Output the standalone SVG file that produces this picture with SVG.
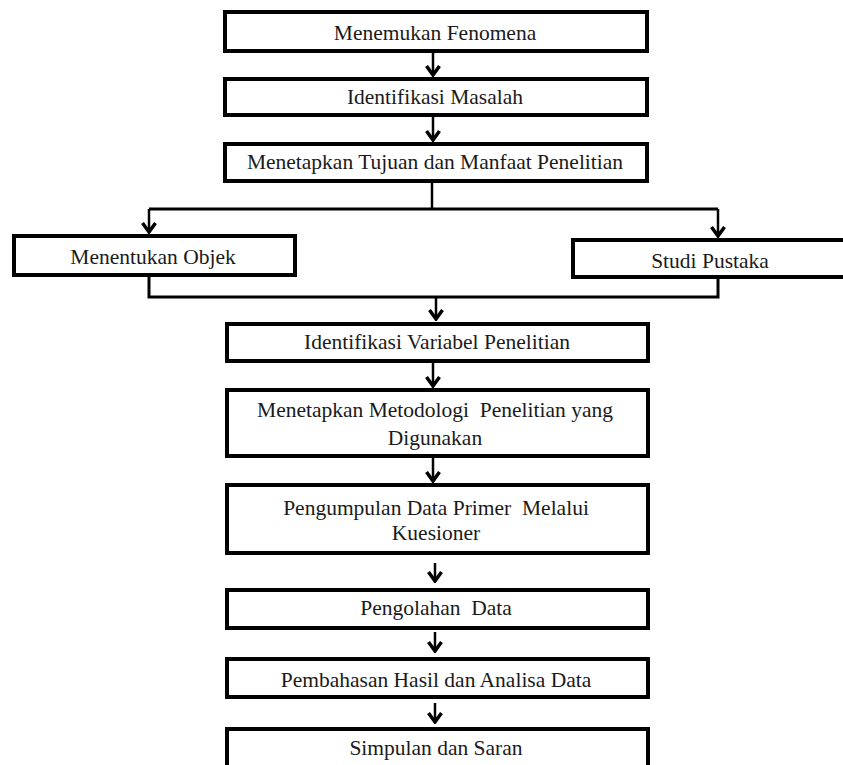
<svg xmlns="http://www.w3.org/2000/svg" width="843" height="765" viewBox="0 0 843 765">
<defs>
<style>
.box{fill:#fff;stroke:#000;stroke-width:4}
text{font-family:'Liberation Serif','Times New Roman',serif;font-size:21.5px;fill:#1a1a1a;text-anchor:middle;white-space:pre}
.c{fill:none;stroke:#000;stroke-width:2.5}
.h{fill:none;stroke:#000;stroke-width:3}
</style>
<marker id="arr" viewBox="-12 -9 14 18" refX="0" refY="0" markerWidth="14" markerHeight="18" markerUnits="userSpaceOnUse" orient="auto">
<path d="M-9,-6.5 L0,0 L-9,6.5" fill="none" stroke="#000" stroke-width="3.5"/>
</marker>
</defs>
<rect width="843" height="765" fill="#fff"/>
<g id="connectors">
<line class="c" x1="433" y1="53" x2="433" y2="75" marker-end="url(#arr)"/>
<line class="c" x1="433" y1="117" x2="433" y2="140" marker-end="url(#arr)"/>
<line class="c" x1="432" y1="183" x2="432" y2="209" stroke-width="2"/>
<line class="h" x1="149" y1="209" x2="718" y2="209"/>
<line class="c" x1="149" y1="209" x2="149" y2="232" marker-end="url(#arr)"/>
<line class="c" x1="718" y1="209" x2="718" y2="236" marker-end="url(#arr)"/>
<polyline class="h" points="149,277 149,297 718,297 718,279"/>
<line class="c" x1="436" y1="297" x2="436" y2="319" marker-end="url(#arr)"/>
<line class="c" x1="433" y1="363" x2="433" y2="386" marker-end="url(#arr)"/>
<line class="c" x1="433" y1="458" x2="433" y2="481" marker-end="url(#arr)"/>
<line class="c" x1="435" y1="563" x2="435" y2="581" marker-end="url(#arr)"/>
<line class="c" x1="435" y1="632" x2="435" y2="651" marker-end="url(#arr)"/>
<line class="c" x1="435" y1="703" x2="435" y2="722" marker-end="url(#arr)"/>
</g>
<g id="n1"><rect class="box" x="225" y="12" width="422" height="39"/><text x="435" y="40">Menemukan Fenomena</text></g>
<g id="n2"><rect class="box" x="225" y="79" width="422" height="36"/><text x="435" y="104">Identifikasi Masalah</text></g>
<g id="n3"><rect class="box" x="225" y="144" width="422" height="37"/><text x="435" y="169">Menetapkan Tujuan dan Manfaat Penelitian</text></g>
<g id="n4"><rect class="box" x="14" y="236" width="281" height="39"/><text x="153" y="264">Menentukan Objek</text></g>
<g id="n5"><rect class="box" x="573" y="240" width="290" height="37"/><text x="710" y="268">Studi Pustaka</text></g>
<g id="n6"><rect class="box" x="227" y="324" width="421" height="37"/><text x="437" y="349">Identifikasi Variabel Penelitian</text></g>
<g id="n7"><rect class="box" x="227" y="390" width="421" height="66"/><text x="435" y="417">Menetapkan Metodologi  Penelitian yang</text><text x="435" y="445">Digunakan</text></g>
<g id="n8"><rect class="box" x="227" y="485" width="421" height="68"/><text x="436" y="515">Pengumpulan Data Primer  Melalui</text><text x="436" y="540">Kuesioner</text></g>
<g id="n9"><rect class="box" x="227" y="590" width="421" height="38"/><text x="436" y="615">Pengolahan  Data</text></g>
<g id="n10"><rect class="box" x="227" y="659" width="421" height="38"/><text x="436" y="687">Pembahasan Hasil dan Analisa Data</text></g>
<g id="n11"><rect class="box" x="227" y="729" width="421" height="38"/><text x="436" y="755">Simpulan dan Saran</text></g>
</svg>
